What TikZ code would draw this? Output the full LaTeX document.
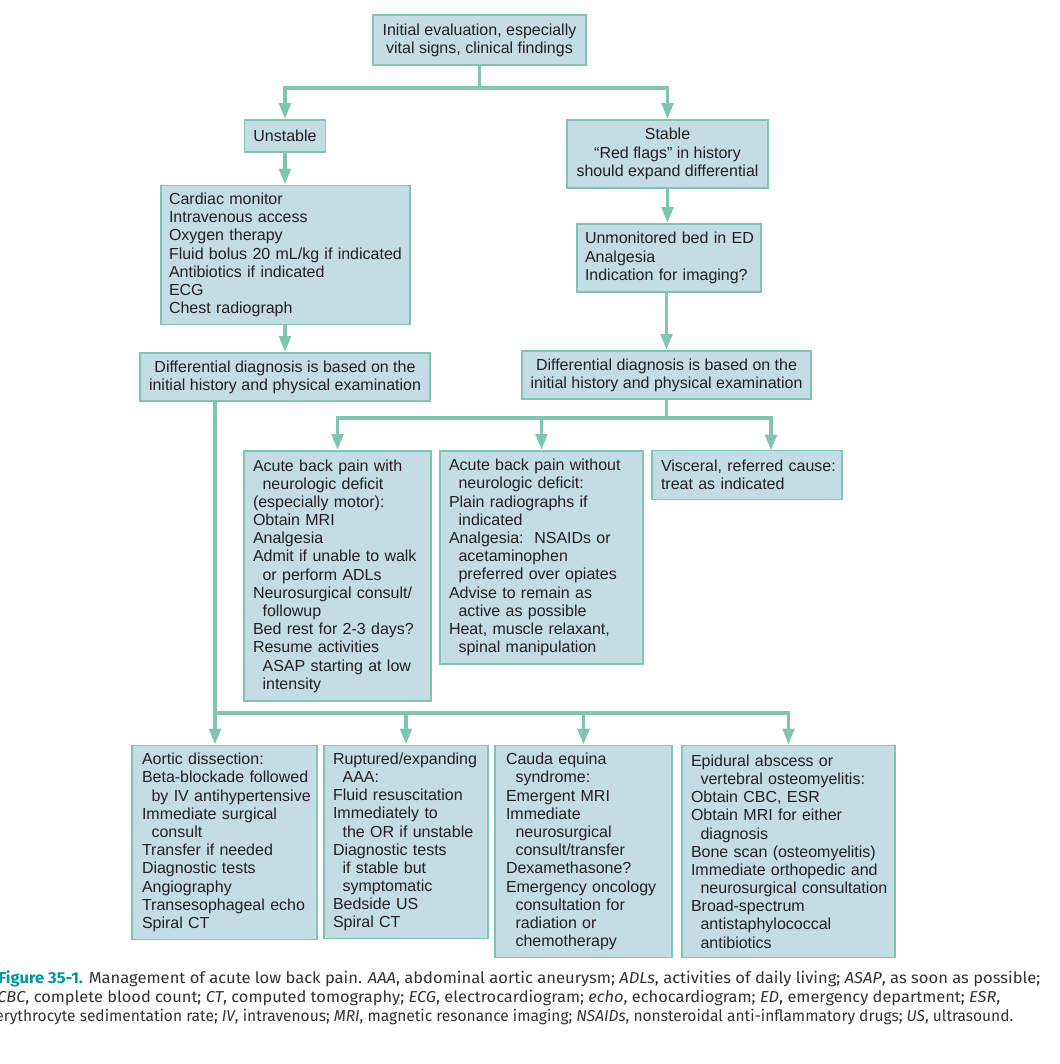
\documentclass[tikz,border=0pt]{standalone}
\usepackage{fontspec}
\setmainfont{Liberation Sans}
\newfontfamily\capfont{Fira Sans}
\usepackage{graphicx}
\usetikzlibrary{arrows.meta}

\definecolor{boxfill}{RGB}{196,221,228}
\definecolor{boxline}{RGB}{128,196,178}
\definecolor{linkteal}{RGB}{128,196,178}
\definecolor{inktext}{RGB}{35,31,32}
\definecolor{figteal}{RGB}{0,150,165}
\definecolor{capgray}{RGB}{50,50,50}

\newcommand{\px}{0.02cm}
\newcommand{\ind}{\hspace*{0.6em}}
\newsavebox\capbox
\newlength\caplen
\newcommand{\fitline}[2]{\sbox\capbox{#2}\setlength\caplen{\wd\capbox}%
  \pgfmathsetmacro\capratio{#1/\caplen}\scalebox{\capratio}[1]{\usebox\capbox}}

\tikzset{
  pbox/.style={draw=boxline, fill=boxfill, line width=1.1pt, inner sep=0pt,
    text=inktext, font=\fontsize{9.1}{10.35}\selectfont},
  boxsize/.style 2 args={minimum width=#1*\px, minimum height=#2*\px},
  midbox/.style={pbox, align=center},
  listbox/.style={pbox, text width=#1*\px,
    execute at begin node={\parindent=0pt\leftskip=0pt\rightskip=0pt plus 1fil minus 30pt%
      \hyphenpenalty=10000\relax}},
  link/.style={draw=linkteal, line width=2pt},
  arrow/.style={link, -{Triangle[length=9pt,width=6.5pt]}},
}

\begin{document}
\begin{tikzpicture}[x=0.02cm, y=-0.02cm]
 \useasboundingbox (0,0) rectangle (1060,1064);

 % evaluation and first split
 \node[midbox, boxsize={213}{50}] (init) at (479.5,40)
   {Initial evaluation, especially\\vital signs, clinical findings};
 \node[midbox, boxsize={81}{32}] (unstable) at (285,136) {Unstable};
 \node[midbox, boxsize={201}{68}] (stable) at (667.5,154)
   {Stable\\“Red flags” in history\\should expand differential};
 \node[listbox=233, boxsize={249}{139}] (cardiac) at (285.5,255)
   {Cardiac monitor\\Intravenous access\\Oxygen therapy\\Fluid bolus 20 mL/kg if indicated\\%
    Antibiotics if indicated\\ECG\\Chest radiograph};
 \node[listbox=168, boxsize={184}{68}] (unmon) at (669,258)
   {Unmonitored bed in ED\\Analgesia\\Indication for imaging?};
 \node[midbox, boxsize={290}{48}] (ddl) at (285,377)
   {Differential diagnosis is based on the\\initial history and physical examination};
 \node[midbox, boxsize={289}{48}] (ddr) at (666.5,375)
   {Differential diagnosis is based on the\\initial history and physical examination};

 % stable branch
 \node[listbox=169, boxsize={187}{250}] (acwith) at (337.5,576)
   {Acute back pain with\\\ind neurologic deficit\\(especially motor):\\Obtain MRI\\Analgesia\\%
    Admit if unable to walk\\\ind or perform ADLs\\Neurosurgical consult/\\\ind followup\\%
    Bed rest for 2-3 days?\\Resume activities\\\ind ASAP starting at low\\\ind intensity};
 \node[listbox=185, boxsize={203}{213}] (acwo) at (541.5,557.5)
   {Acute back pain without\\\ind neurologic deficit:\\Plain radiographs if\\\ind indicated\\%
    Analgesia:\ \ NSAIDs or\\\ind acetaminophen\\\ind preferred over opiates\\%
    Advise to remain as\\\ind active as possible\\Heat, muscle relaxant,\\\ind spinal manipulation};
 \node[listbox=172, boxsize={190}{49}] (visc) at (747,475)
   {Visceral, referred cause:\\treat as indicated};

 % unstable branch
 \node[listbox=165, boxsize={185}{194}] (aortic) at (224.5,842.5)
   {Aortic dissection:\\Beta-blockade followed\\\ind by IV antihypertensive\\Immediate surgical\\%
    \ind consult\\Transfer if needed\\Diagnostic tests\\Angiography\\Transesophageal echo\\Spiral CT};
 \node[listbox=146, boxsize={164}{193}] (rupt) at (406,842)
   {Ruptured/expanding\\\ind AAA:\\Fluid resuscitation\\Immediately to\\\ind the OR if unstable\\%
    Diagnostic tests\\\ind if stable but\\\ind symptomatic\\Bedside US\\Spiral CT};
 \node[listbox=155, boxsize={177}{212}] (cauda) at (583.5,851.5)
   {Cauda equina\\\ind syndrome:\\Emergent MRI\\Immediate\\\ind neurosurgical\\\ind consult/transfer\\%
    Dexamethasone?\\Emergency oncology\\\ind consultation for\\\ind radiation or\\\ind chemotherapy};
 \node[listbox=195, boxsize={213}{212}] (epid) at (788.5,851.5)
   {Epidural abscess or\\\ind vertebral osteomyelitis:\\Obtain CBC, ESR\\Obtain MRI for either\\%
    \ind diagnosis\\Bone scan (osteomyelitis)\\Immediate orthopedic and\\\ind neurosurgical consultation\\%
    Broad-spectrum\\\ind antistaphylococcal\\\ind antibiotics};

 % connectors
 \coordinate (spl1) at (479.5,88);
 \draw[link] (init) -- (spl1);
 \draw[arrow] (spl1) -| (unstable);
 \draw[arrow] (spl1) -| (stable);
 \draw[arrow] (unstable) -- (cardiac.north -| unstable);
 \draw[arrow] (stable) -- (unmon.north -| stable);
 \draw[arrow] (cardiac.south -| ddl) -- (ddl);
 \draw[arrow] (unmon.south -| ddr) -- (ddr);

 \coordinate (spl2) at (666.5,418);
 \coordinate (vin) at (771,450.5);
 \draw[link] (ddr) -- (spl2);
 \draw[arrow] (spl2) -| (acwith);
 \draw[arrow] (spl2) -| (acwo);
 \draw[arrow] (spl2) -| (vin);

 \coordinate (spl3) at (215,713);
 \draw[link] (ddl.south -| spl3) -- (spl3);
 \draw[arrow] (spl3) -- (aortic.north -| spl3);
 \draw[arrow] (spl3) -| (rupt);
 \draw[arrow] (spl3) -| (cauda);
 \draw[arrow] (spl3) -| (epid);

 % caption
 \begin{scope}[every node/.style={anchor=base west, inner sep=0pt, text=capgray,
     font=\capfont\fontsize{9}{11}\selectfont}]
  \node (cap1) at (-2,983) {\fitline{1042*\px}{{\bfseries\color{figteal}Figure 35-1.} Management of acute low back pain.
    \textit{AAA}, abdominal aortic aneurysm; \textit{ADLs}, activities of daily living; \textit{ASAP}, as soon as possible;}};
  \node (cap2) at (-3,1002) {\fitline{1003*\px}{\textit{CBC}, complete blood count; \textit{CT}, computed tomography;
    \textit{ECG}, electrocardiogram; \textit{echo}, echocardiogram; \textit{ED}, emergency department; \textit{ESR},}};
  \node (cap3) at (-5,1021) {\fitline{1018*\px}{erythrocyte sedimentation rate; \textit{IV}, intravenous;
    \textit{MRI}, magnetic resonance imaging; \textit{NSAIDs}, nonsteroidal anti-inflammatory drugs; \textit{US}, ultrasound.}};
 \end{scope}
\end{tikzpicture}
\end{document}
